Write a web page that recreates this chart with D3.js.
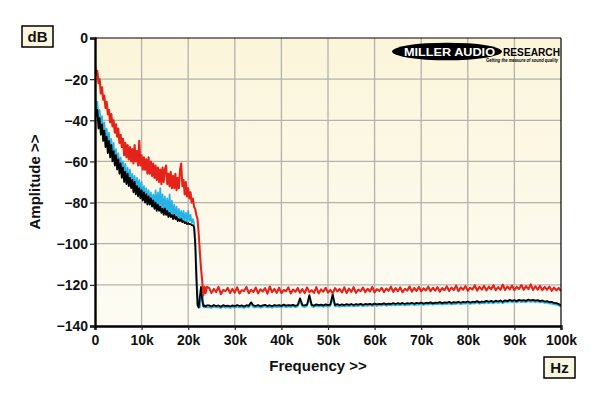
<!DOCTYPE html>
<html>
<head>
<meta charset="utf-8">
<script src="https://cdn.jsdelivr.net/npm/d3@7"></script>
<style>
    body { margin: 0; background: #ffffff; }
    text { font-family: "Liberation Sans", Arial, sans-serif; }
</style>
</head>
<body>
<div id="chart"></div>
<script>
// frequency grid (kHz): 0.25k steps up to 24k, 0.5k steps above
const freqLowStep = 0.25,
      freqHighStep = 0.5;

const yTicks = [0, -20, -40, -60, -80, -100, -120, -140];
const xTicks = [0, 10, 20, 30, 40, 50, 60, 70, 80, 90, 100];
const xTickLabels = ['0', '10k', '20k', '30k', '40k', '50k', '60k', '70k', '80k', '90k', '100k'];

// 0 .. 24k
const redLow = [
    -13, -18, -16, -22, -20, -27, -24, -30,
    -28, -34, -31, -37, -35, -41, -37, -43,
    -40, -46, -42, -48, -44, -51, -47, -53,
    -49, -57, -51, -58, -52, -59, -53, -60,
    -54, -61, -52, -60, -55, -62, -50, -62,
    -57, -64, -58, -64, -59, -66, -58, -66,
    -60, -67, -61, -68, -62, -69, -63, -70,
    -64, -71, -63, -70, -64, -62, -71, -66,
    -72, -65, -73, -67, -73, -66, -74, -68,
    -73, -64, -61, -72, -69, -76, -70, -77,
    -73, -78, -75, -80, -78, -82, -83, -86,
    -88, -95, -104, -112, -118, -125, -121, -124,
    -121
];

const cyanLow = [
    -26, -34, -31, -40, -35, -43, -38, -46,
    -41, -49, -44, -52, -46, -55, -49, -57,
    -51, -59, -54, -61, -56, -63, -58, -65,
    -60, -67, -61, -68, -63, -70, -64, -71,
    -66, -72, -67, -73, -68, -74, -69, -76,
    -70, -77, -72, -78, -73, -79, -74, -80,
    -75, -81, -76, -82, -74, -82, -75, -83,
    -73, -83, -76, -84, -77, -85, -78, -86,
    -76, -86, -79, -87, -81, -87, -82, -88,
    -83, -88, -84, -89, -84, -89, -85, -89,
    -84, -89, -86, -90, -88, -90, -96, -110,
    -124, -130, -131, -127, -122, -129, -131, -130.5,
    -131
];

const blackLow = [
    -31, -38, -35, -44, -39, -47, -42, -50,
    -45, -53, -48, -56, -50, -58, -52, -60,
    -55, -62, -57, -64, -59, -66, -61, -68,
    -63, -70, -65, -71, -66, -72, -68, -73,
    -69, -75, -70, -76, -72, -77, -73, -78,
    -74, -79, -75, -80, -76, -81, -77, -81,
    -78, -82, -79, -83, -80, -84, -81, -84,
    -82, -85, -83, -86, -83, -86, -84, -87,
    -85, -87, -86, -88, -86, -88, -87, -89,
    -88, -89, -88, -89.5, -89, -90, -89.5, -90.5,
    -90, -90.5, -90.5, -91, -91, -92, -100, -117,
    -130, -131, -126, -121, -127, -130.5, -130, -130.5,
    -130
];

// 24.5k .. 100k
const redHigh = [
    -121.5, -124, -122, -123.5, -121, -124.5, -122.5, -123, -121.5, -124,
    -122, -123.8, -121.2, -124.2, -122.6, -123, -121, -124, -122.4, -123.5,
    -121.3, -124.1, -122.2, -123.2, -121.6, -124.3, -120.8, -123.6, -122, -123.9,
    -121.4, -124, -122.5, -123.1, -121.2, -124.2, -122.3, -123.4, -121.5, -123.8,
    -122.1, -124, -121.3, -123.5, -122.6, -123.9, -121.1, -124.2, -122.2, -123.3,
    -121.4, -123.8, -122.4, -124.1, -121.6, -123.2, -122, -123.7, -121.2, -124,
    -121.8, -123.4, -121.1, -123.9, -122.3, -123.1, -121.3, -123.6, -121.9, -123.2,
    -121, -123.7, -122.1, -123, -121.4, -123.5, -121.8, -122.9, -120.9, -123.4,
    -121.6, -123.1, -121.2, -123.6, -121.9, -122.8, -120.8, -123.3, -121.5, -123,
    -121, -123.2, -121.7, -122.7, -120.9, -123.1, -121.4, -122.8, -121.1, -123.3,
    -121.6, -122.6, -120.7, -123, -121.3, -122.5, -120.4, -123.1, -121.2, -122.4,
    -120.6, -122.9, -121.4, -122.2, -120.3, -122.8, -121, -122.3, -120.5, -122.7,
    -120.9, -122.1, -120.2, -122.6, -121.1, -122.4, -119.9, -122.5, -120.8, -122.2,
    -120.4, -122.6, -121, -122, -120.1, -122.4, -120.6, -122.1, -119.8, -122.5,
    -120.7, -122.3, -120.5, -122.6, -121, -122.4, -120.8, -122.9, -121.3, -122.7,
    -121.5, -123
];

const cyanHigh = [
    -130.8, -131.2, -130.6, -131, -130.9, -131.3, -130.7, -131.1, -130.8, -131.2,
    -130.7, -131.1, -130.6, -131, -130.8, -131.2, -130.6, -131, -129.5, -130.9,
    -131, -130.6, -131.1, -130.7, -130.5, -131, -130.6, -131.1, -130.5, -130.9,
    -130.6, -130.9, -130.4, -130.8, -130.5, -130.8, -130.4, -130.9, -130.5, -128,
    -130.5, -130.8, -130.3, -127, -130.4, -130.8, -130.2, -130.6, -130.3, -130.7,
    -130.2, -130.6, -130.3, -126.5, -130.5, -130.1, -130.6, -130.2, -130.5, -130.1,
    -130.4, -130, -130.5, -130.1, -130.3, -129.9, -130.4, -130, -130.2, -129.9,
    -130.3, -129.8, -130.2, -129.9, -130.1, -129.7, -130.2, -129.8, -130, -129.6,
    -130, -129.6, -129.9, -129.5, -130, -129.6, -129.8, -129.4, -129.9, -129.5,
    -129.7, -129.3, -129.8, -129.4, -129.6, -129.2, -129.7, -129.3, -129.5, -129.1,
    -129.6, -129.2, -129.4, -129, -129.5, -129.1, -129.3, -128.9, -129.4, -129,
    -129.2, -128.8, -129.3, -128.9, -129.1, -128.6, -129.2, -128.8, -129, -128.5,
    -128.9, -128.5, -129, -128.4, -128.8, -128.3, -128.9, -128.2, -128.6, -128,
    -128.5, -128.1, -128.6, -128, -128.4, -128.1, -128.5, -127.9, -128.3, -128,
    -128.4, -128.1, -128.6, -128.3, -128.8, -128.6, -129.1, -129, -129.5, -129.6,
    -130, -130.6
];

const blackHigh = [
    -130, -130.5, -129.8, -130.4, -130, -130.6, -129.9, -130.3, -130.1, -130.5,
    -130, -130.4, -129.8, -130.3, -130, -130.5, -129.9, -130.2, -128.5, -130,
    -130.3, -129.8, -130.4, -130, -129.7, -130.3, -129.9, -130.4, -129.8, -130.1,
    -129.9, -130.2, -129.6, -130.1, -129.8, -130, -129.7, -130.2, -129.8, -126.5,
    -129.8, -130, -129.6, -125, -129.7, -130.1, -129.5, -129.9, -129.6, -130,
    -129.5, -129.9, -129.6, -124.5, -129.8, -129.4, -129.9, -129.5, -129.8, -129.4,
    -129.7, -129.3, -129.8, -129.4, -129.6, -129.2, -129.7, -129.3, -129.5, -129.2,
    -129.6, -129.1, -129.5, -129.2, -129.4, -129, -129.5, -129.1, -129.3, -128.9,
    -129.3, -128.9, -129.2, -128.8, -129.3, -128.9, -129.1, -128.7, -129.2, -128.8,
    -129, -128.6, -129.1, -128.7, -128.9, -128.5, -129, -128.6, -128.8, -128.4,
    -128.9, -128.5, -128.7, -128.3, -128.8, -128.4, -128.6, -128.2, -128.7, -128.3,
    -128.5, -128.1, -128.6, -128.2, -128.4, -127.9, -128.5, -128.1, -128.3, -127.8,
    -128.2, -127.8, -128.3, -127.7, -128.1, -127.6, -128.2, -127.5, -127.9, -127.3,
    -127.8, -127.4, -127.9, -127.3, -127.7, -127.4, -127.8, -127.2, -127.6, -127.3,
    -127.7, -127.4, -127.9, -127.6, -128.1, -127.9, -128.4, -128.3, -128.8, -128.9,
    -129.3, -130
];

const traceColors = {'red': '#e5231b', 'cyan': '#27b3e6', 'black': '#000000'};
const traceWidths = {'red': 2.1, 'cyan': 1.7, 'black': 1.8};

const w = 600, h = 396;
const margin = {top: 38, right: 39, bottom: 70, left: 95};
const width = w - margin.left - margin.right,
      height = h - margin.top - margin.bottom;


function drawSpectrum() {
    /**
     * Draw the three spectrum traces on a cream plot area with the
     * Miller Audio Research style frame, axes and labels
     */

    let freqs = d3.range(0, 24.001, freqLowStep)
        .concat(d3.range(24.5, 100.001, freqHighStep));

    let traces = [
        {name: 'cyan', values: cyanLow.concat(cyanHigh)},
        {name: 'black', values: blackLow.concat(blackHigh)},
        {name: 'red', values: redLow.concat(redHigh)}
    ].map(t => ({name: t.name, points: t.values.map((v, i) => [freqs[i], v])}));

    let svg = d3.select("#chart")
        .append("svg")
        .attr("width", w)
        .attr("height", h);

    let defs = svg.append("defs");
    let grad = defs.append("linearGradient")
        .attr("id", "bg")
        .attr("x1", 0).attr("y1", 0)
        .attr("x2", 0).attr("y2", 1);
    grad.append("stop").attr("offset", "0%").attr("stop-color", "#fbf5da");
    grad.append("stop").attr("offset", "100%").attr("stop-color", "#fdfcf4");

    defs.append("clipPath")
        .attr("id", "clip")
        .append("rect")
        .attr("width", width)
        .attr("height", height);

    let g = svg.append("g")
        .attr("transform", "translate(" + margin.left + "," + margin.top + ")");

    let x = d3.scaleLinear()
        .domain([0, 100])
        .range([0, width]);

    let y = d3.scaleLinear()
        .domain([-140, 0])
        .range([height, 0]);

    g.append("rect")
        .attr("width", width)
        .attr("height", height)
        .attr("fill", "url(#bg)");

    // grid
    g.append("g")
        .selectAll("line")
        .data(xTicks.slice(1, -1))
        .join("line")
        .attr("x1", d => x(d)).attr("x2", d => x(d))
        .attr("y1", 0).attr("y2", height)
        .attr("stroke", "#b4b2ad")
        .attr("stroke-width", 1.3);

    g.append("g")
        .selectAll("line")
        .data(yTicks.slice(1, -1))
        .join("line")
        .attr("x1", 0).attr("x2", width)
        .attr("y1", d => y(d)).attr("y2", d => y(d))
        .attr("stroke", "#b4b2ad")
        .attr("stroke-width", 1.3);

    // logo
    let logo = svg.append("g")
        .style("font-family", '"DejaVu Sans", "Liberation Sans", sans-serif')
        .style("font-weight", "bold");
    logo.append("ellipse")
        .attr("cx", 447)
        .attr("cy", 51.5)
        .attr("rx", 55)
        .attr("ry", 8.8)
        .attr("fill", "#000");
    logo.append("text")
        .attr("x", 404)
        .attr("y", 55.5)
        .attr("fill", "#fff")
        .style("font-size", "10.5px")
        .attr("textLength", 91)
        .attr("lengthAdjust", "spacingAndGlyphs")
        .text("MILLER AUDIO");
    logo.append("text")
        .attr("x", 503)
        .attr("y", 55.5)
        .attr("fill", "#000")
        .style("font-size", "10.5px")
        .attr("textLength", 57)
        .attr("lengthAdjust", "spacingAndGlyphs")
        .text("RESEARCH");
    logo.append("text")
        .attr("x", 486)
        .attr("y", 61.5)
        .attr("fill", "#000")
        .style("font-size", "5px")
        .style("font-style", "italic")
        .attr("textLength", 72)
        .attr("lengthAdjust", "spacingAndGlyphs")
        .text("Getting the measure of sound quality");

    let line = d3.line()
        .x(function (d) {
            return x(d[0]);
        })
        .y(function (d) {
            return y(d[1]);
        });

    g.append("g")
        .attr("clip-path", "url(#clip)")
        .selectAll("path")
        .data(traces)
        .join("path")
        .attr("fill", "none")
        .attr("stroke", d => traceColors[d.name])
        .attr("stroke-width", d => traceWidths[d.name])
        .attr("stroke-linejoin", "round")
        .attr("d", d => line(d.points));

    // frame: thin top/right, heavy left/bottom
    g.append("line")
        .attr("x1", 0).attr("x2", width)
        .attr("y1", 0).attr("y2", 0)
        .attr("stroke", "#000").attr("stroke-width", 1.2);
    g.append("line")
        .attr("x1", width).attr("x2", width)
        .attr("y1", 0).attr("y2", height)
        .attr("stroke", "#000").attr("stroke-width", 1.2);

    let xAxis = g.append("g")
        .attr("transform", "translate(0," + height + ")")
        .call(d3.axisBottom(x)
            .tickValues(xTicks)
            .tickSize(4)
            .tickPadding(5)
            .tickFormat((d, i) => xTickLabels[i]));

    let yAxis = g.append("g")
        .call(d3.axisLeft(y)
            .tickValues(yTicks)
            .tickSize(5)
            .tickPadding(2)
            .tickFormat(d3.format("d")));

    [xAxis, yAxis].forEach(function (a) {
        a.select(".domain")
            .attr("stroke", "#000")
            .attr("stroke-width", 2.4);
        a.selectAll(".tick line")
            .attr("stroke", "#222")
            .attr("stroke-width", 1.2);
        a.selectAll(".tick text")
            .attr("fill", "#111")
            .style("font-family", '"Liberation Sans", Arial, sans-serif')
            .style("font-size", "14px")
            .style("font-weight", "bold");
    });
    yAxis.selectAll(".tick text").attr("dy", "0.35em");

    // axis titles
    svg.append("text")
        .attr("x", 318)
        .attr("y", 371)
        .attr("text-anchor", "middle")
        .attr("fill", "#111")
        .style("font-size", "15px")
        .style("font-weight", "bold")
        .text("Frequency >>");

    svg.append("text")
        .attr("transform", "translate(40," + (margin.top + height / 2) + ") rotate(-90)")
        .attr("text-anchor", "middle")
        .attr("fill", "#111")
        .style("font-size", "15px")
        .style("font-weight", "bold")
        .text("Amplitude >>");

    // unit boxes
    [{label: 'dB', x: 22, y: 26}, {label: 'Hz', x: 544, y: 357}].forEach(function (b) {
        svg.append("rect")
            .attr("x", b.x)
            .attr("y", b.y)
            .attr("width", 31)
            .attr("height", 21)
            .attr("fill", "#fbf6e0")
            .attr("stroke", "#000")
            .attr("stroke-width", 1.5);
        svg.append("text")
            .attr("x", b.x + 15.5)
            .attr("y", b.y + 10.5)
            .attr("dy", "0.36em")
            .attr("text-anchor", "middle")
            .attr("fill", "#111")
            .style("font-size", "15px")
            .style("font-weight", "bold")
            .text(b.label);
    });
}

drawSpectrum();
</script>
</body>
</html>
